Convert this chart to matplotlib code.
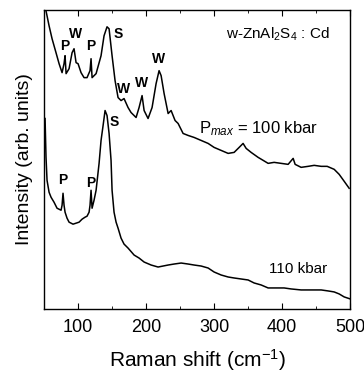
import matplotlib
matplotlib.use('Agg')
import matplotlib.pyplot as plt
from matplotlib.ticker import MultipleLocator

plt.rcParams['font.family'] = ['Liberation Sans', 'DejaVu Sans']
plt.rcParams['mathtext.fontset'] = 'custom'
plt.rcParams['mathtext.rm'] = 'Liberation Sans'
plt.rcParams['mathtext.it'] = 'Liberation Sans:italic'

# upper spectrum, P_max = 100 kbar
shift_100 = [52.9, 57.4, 61.8, 67.6, 72.1, 76.5, 79.4, 80.9, 82.4, 86.8, 91.2, 94.1,
             97.1, 100, 104.4, 108.8, 113.2, 117.6, 119.1, 120.6, 126.5, 133.8, 138.2,
             142.6, 145.6, 150, 154.4, 158.8, 163.2, 167.6, 173.5, 177.9, 185.3, 189.7,
             194.1, 197.1, 202.9, 208.8, 214.7, 219.1, 222.1, 226.5, 232.4, 236.8, 242.6,
             247.1, 254.4, 261.8, 270.6, 280.9, 291.2, 300, 310.3, 320.6, 329.4, 336.8,
             342.6, 347.1, 354.4, 364.7, 372.1, 379.4, 388.2, 398.5, 408.8, 416.2, 419.1,
             427.9, 438.2, 447.1, 457.4, 466.2, 476.5, 483.8, 491.2, 498.5]
int_100 = [299, 284, 271, 257, 246, 237, 246, 254, 236, 241, 257, 261,
           247, 246, 237, 232, 232, 239, 251, 232, 236, 254, 274,
           283, 281, 254, 229, 212, 209, 211, 202, 197, 192, 202,
           214, 199, 191, 202, 226, 239, 234, 216, 196, 199, 189,
           186, 176, 174, 172, 169, 166, 162, 159, 156, 157, 162,
           166, 161, 157, 152, 149, 146, 147, 146, 145, 151, 145,
           142, 143, 144, 143, 143, 140, 135, 128, 121]

# lower spectrum, 110 kbar
shift_110 = [51.5, 52.9, 54.4, 57.4, 60.3, 64.7, 69.1, 75, 76.5, 77.9, 79.4, 80.9,
             83.8, 86.8, 92.6, 97.1, 101.5, 105.9, 110.3, 113.2, 116.2, 117.6, 119.1,
             120.6, 123.5, 126.5, 130.9, 133.8, 136.8, 139.7, 142.6, 145.6, 148.5, 150,
             152.9, 155.9, 158.8, 163.2, 167.6, 173.5, 182.4, 189.7, 197.1, 207.4, 217.6,
             225, 232.4, 241.2, 251.5, 261.8, 270.6, 280.9, 291.2, 300, 310.3, 320.6,
             329.4, 339.7, 350, 358.8, 369.1, 379.4, 391.2, 402.9, 413.2, 427.9, 442.6,
             457.4, 467.6, 476.5, 483.8, 491.2, 500]
int_110 = [191, 152, 129, 117, 112, 107, 101, 99, 104, 116, 104, 97,
           91, 87, 85, 86, 87, 90, 92, 93, 97, 104, 119,
           101, 109, 119, 146, 169, 184, 199, 194, 176, 149, 119,
           97, 87, 81, 71, 65, 61, 54, 51, 47, 44, 42,
           43, 44, 45, 46, 45, 44, 43, 41, 37, 34, 32,
           31, 30, 29, 26, 24, 21, 21, 21, 20, 19, 19,
           19, 18, 17, 15, 12, 10]

# peak markers: (label, shift, height)
marks_100 = [('P', 81, 264), ('W', 95.6, 276), ('P', 119, 264), ('S', 159, 276),
             ('W', 167.6, 221), ('W', 194, 227), ('W', 219, 251)]
marks_110 = [('P', 78, 129), ('P', 119, 126), ('S', 153, 187)]

fig = plt.figure(figsize=(3.64, 3.79), dpi=100)
ax = fig.add_axes([0.121, 0.185, 0.841, 0.789])

ax.plot(shift_100, int_100, color='black', lw=1.1)
ax.plot(shift_110, int_110, color='black', lw=1.1)

for lab, x, y in marks_100 + marks_110:
    ax.text(x, y, lab, ha='center', va='center', fontsize=10, fontweight='bold')

ax.text(394, 275, r'w-ZnAl$_2$S$_4$ : Cd', ha='center', va='center', fontsize=11)
ax.text(366, 181, r'P$_{max}$ = 100 kbar', ha='center', va='center', fontsize=12)
ax.text(423, 40, '110 kbar', ha='center', va='center', fontsize=11)

ax.set_xlim(50, 500)
ax.set_ylim(0, 300)
ax.xaxis.set_major_locator(MultipleLocator(100))
ax.xaxis.set_minor_locator(MultipleLocator(50))
ax.set_yticks([])
ax.tick_params(axis='x', which='both', direction='in', top=True, labelsize=13, pad=7)
ax.tick_params(axis='x', which='major', length=4)
ax.tick_params(axis='x', which='minor', length=2.5)
for s in ax.spines.values():
    s.set_linewidth(1.0)

ax.set_xlabel('Raman shift (cm$^{-1}$)', fontsize=15, labelpad=8)
ax.set_ylabel('Intensity (arb. units)', fontsize=14, labelpad=8)

fig.savefig('out.png', dpi=100)
